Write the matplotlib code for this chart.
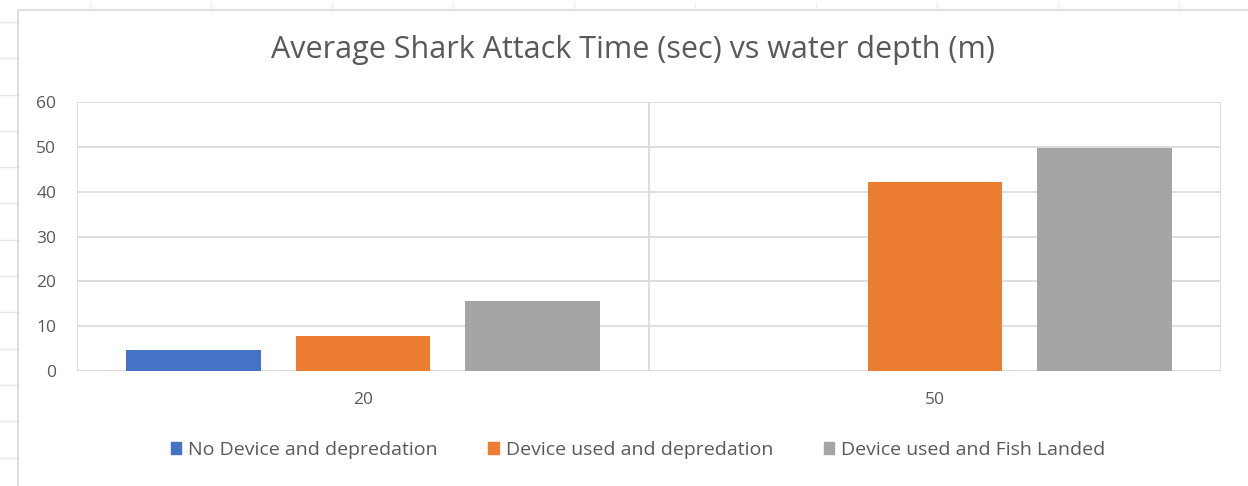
import matplotlib.pyplot as plt
from matplotlib.lines import Line2D
import numpy as np

plt.rcParams['font.family'] = ['Open Sans', 'DejaVu Sans']

depths = ['20', '50']
series = ['No Device and depredation', 'Device used and depredation', 'Device used and Fish Landed']
no_device = [4.7, 0]
device_depred = [7.8, 42.2]
device_landed = [15.6, 49.8]
colors = ['#4472C4', '#ED7D31', '#A5A5A5']
yticks = [0, 10, 20, 30, 40, 50, 60]

txt = '#595959'
grid = '#d9d9d9'

fig = plt.figure(figsize=(12.48, 4.86), dpi=100)
W, H = 1248, 486

# sheet row/column lines peeking out behind the chart
for y in np.arange(22, H, 36.3):
    fig.add_artist(Line2D([0, 18 / W], [1 - y / H] * 2, color='#e6e6e6', lw=1))
for x in np.arange(90, W, 121):
    fig.add_artist(Line2D([x / W] * 2, [1 - 2 / H, 1 - 10 / H], color='#f0f0f0', lw=1))
# chart area border
fig.add_artist(Line2D([18 / W, 18 / W, 1.0], [0, 1 - 10 / H, 1 - 10 / H], color=grid, lw=1.2))

ax = fig.add_axes([77 / W, 1 - 371 / H, (1221 - 77) / W, (371 - 102) / H])

x = np.arange(len(depths))
bw = 0.236
gap = 0.06
offsets = [-(bw + gap), 0, bw + gap]
for vals, off, c, name in zip([no_device, device_depred, device_landed], offsets, colors, series):
    ax.bar(x + off, vals, width=bw, color=c, label=name, zorder=3)

ax.set_xlim(-0.5, 1.5)
ax.set_ylim(0, 60)
ax.set_yticks(yticks)
ax.set_xticks(x)
ax.set_xticklabels(depths)
ax.tick_params(length=0, labelsize=12.5, labelcolor=txt)
ax.tick_params(axis='y', pad=15)
ax.tick_params(axis='x', pad=15)
ax.grid(axis='y', color=grid, lw=1.2, zorder=0)
# category separators
for xv in [-0.5, 0.5, 1.5]:
    ax.axvline(xv, color=grid, lw=1.2, zorder=0)
for s in ax.spines.values():
    s.set_visible(False)
ax.axhline(0, color=grid, lw=1.2, zorder=2)

fig.text(633 / W, 1 - 50 / H, 'Average Shark Attack Time (sec) vs water depth (m)',
         ha='center', va='center', fontsize=22, color=txt)

handles = [plt.Rectangle((0, 0), 1, 1, color=c) for c in colors]
fig.legend(handles, series, loc='center', bbox_to_anchor=(638 / W, 1 - 450 / H), ncol=3,
           frameon=False, fontsize=14, labelcolor=txt, handlelength=0.55, handleheight=0.55,
           handletextpad=0.35, columnspacing=2.6)

fig.savefig('out.png', dpi=100, facecolor='white')
